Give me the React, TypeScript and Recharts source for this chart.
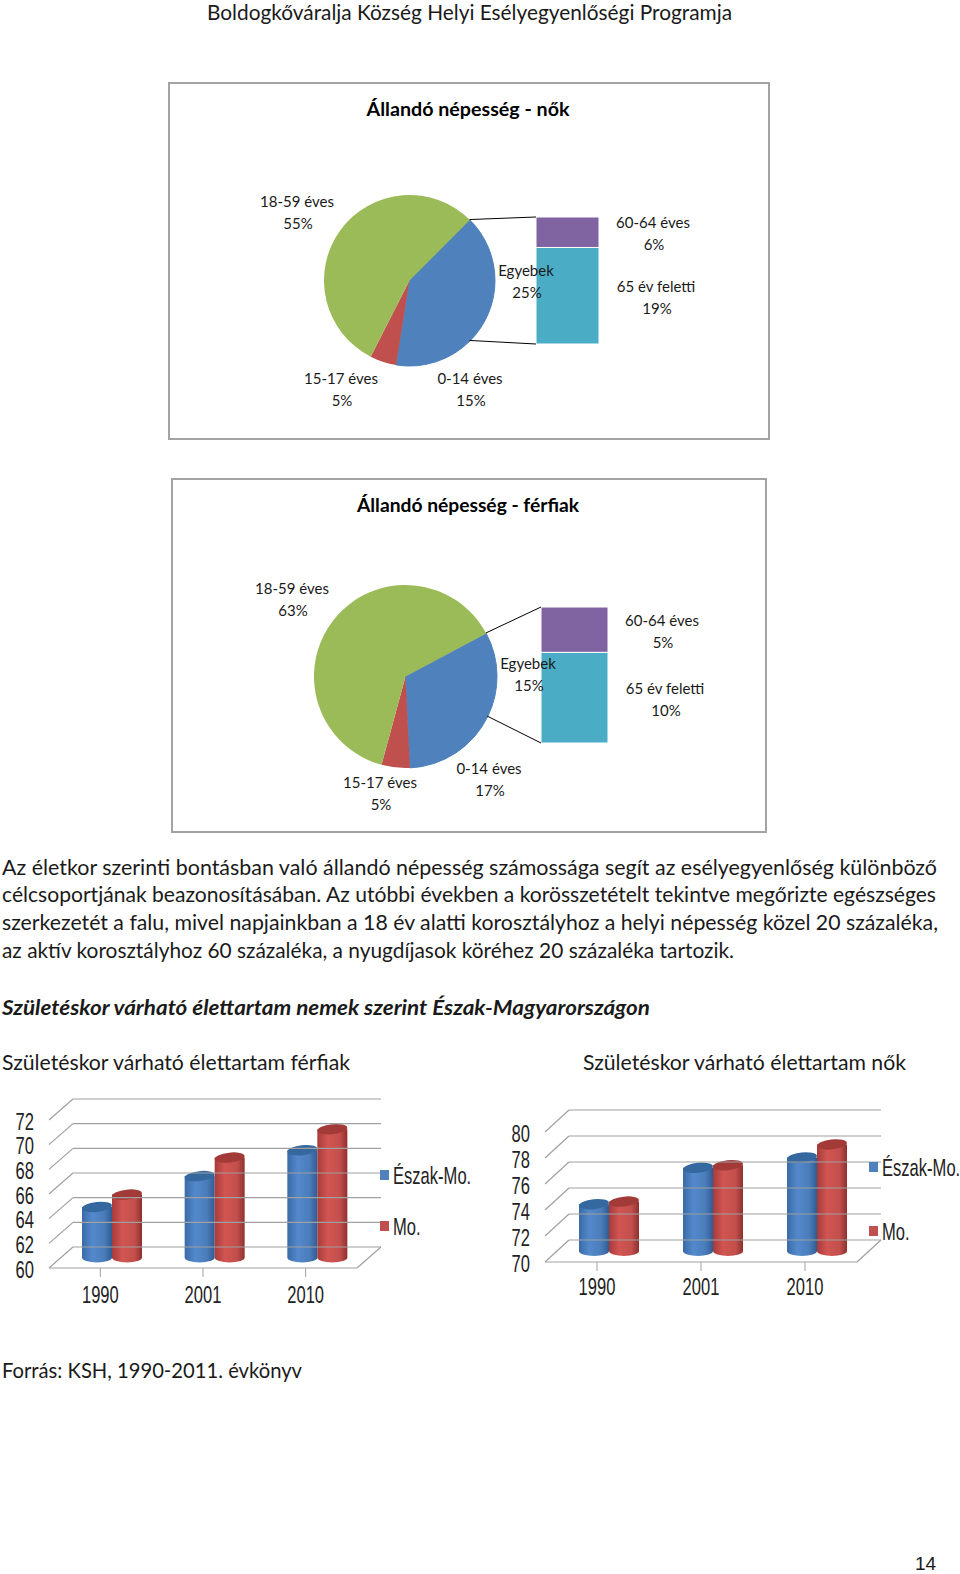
import React from 'react';
import { PieChart, Pie, Cell, BarChart, Bar, XAxis, YAxis } from 'recharts';

// population pies
const pieNames = ['Egyebek', '0-14 éves', '15-17 éves', '18-59 éves'];
const womenPie = [25, 15, 5, 55];
const menPie = [15, 17, 5, 63];
const splitNames = ['65 év feletti', '60-64 éves'];
const womenSplit = [19, 6];
const menSplit = [10, 5];

// life expectancy
const years = ['1990', '2001', '2010'];
const seriesNames = ['Észak-Mo.', 'Mo.'];
const menNorth = [64.1, 66.6, 68.7];
const menHungary = [65.1, 68.1, 70.4];
const womenNorth = [73.6, 76.4, 77.2];
const womenHungary = [73.8, 76.6, 78.2];
const menTicks = [60, 62, 64, 66, 68, 70, 72];
const womenTicks = [70, 72, 74, 76, 78, 80];

const pageTitle = 'Boldogkőváralja Község Helyi Esélyegyenlőségi Programja';
const paragraph = [
  'Az életkor szerinti bontásban való állandó népesség számossága segít az esélyegyenlőség különböző',
  'célcsoportjának beazonosításában. Az utóbbi években a korösszetételt tekintve megőrizte egészséges',
  'szerkezetét a falu, mivel napjainkban a 18 év alatti korosztályhoz a helyi népesség közel 20 százaléka,',
  'az aktív korosztályhoz 60 százaléka, a nyugdíjasok köréhez 20 százaléka tartozik.',
];

const BLUE = '#4f81bd';
const RED = '#c0504d';
const GREEN = '#9bbb59';
const PURPLE = '#8064a2';
const TEAL = '#4bacc6';
const GRID = '#a0a0a0';
const BODY_FONT = 'Lato, sans-serif';
const CHART_FONT = '"Liberation Sans", sans-serif';

const pieColors = [BLUE, BLUE, RED, GREEN];

// the 3D charts were pasted in squeezed, so their text is narrowed the same way
const ChartText = ({ x, y, anchor, children }: any) => (
  <text transform={`translate(${x} ${y}) scale(0.69 1)`} textAnchor={anchor} dominantBaseline="central" fontFamily={CHART_FONT} fontSize={24} fill="#222">
    {children}
  </text>
);

const PopulationPanel = ({ values, split, frame, title, titleY, titleWidth, cx, cy, r, startAngle, barBox, labels }: any) => {
  const pieData = pieNames.map((name, i) => ({ name, value: values[i] }));
  const splitData = [{ a: split[0], b: split[1] }];
  const total = values[0] + values[1] + values[2] + values[3];
  const endA = (startAngle - (values[0] / total) * 360) * (Math.PI / 180);
  const startA = startAngle * (Math.PI / 180);
  const size = r * 2 + 4;
  const texts = [
    [pieNames[3], values[3], labels.big],
    [splitNames[1], split[1], labels.purple],
    [splitNames[0], split[0], labels.teal],
    [pieNames[0], values[0], labels.other],
    [pieNames[2], values[2], labels.red],
    [pieNames[1], values[1], labels.blue],
  ];
  return (
    <>
      <div style={{ position: 'absolute', left: frame[0], top: frame[1], width: frame[2], height: frame[3], border: '2px solid #a3a3a3', boxSizing: 'border-box', background: '#fff' }} />
      <div style={{ position: 'absolute', left: cx - size / 2, top: cy - size / 2 }}>
        <PieChart width={size} height={size} margin={{ top: 0, right: 0, bottom: 0, left: 0 }}>
          <Pie data={pieData} dataKey="value" cx="50%" cy="50%" outerRadius={r} startAngle={startAngle} endAngle={startAngle - 360} stroke="none" isAnimationActive={false}>
            {pieData.map((d, i) => <Cell key={d.name} fill={pieColors[i]} stroke={i < 2 ? BLUE : 'none'} strokeWidth={1} />)}
          </Pie>
        </PieChart>
      </div>
      <div style={{ position: 'absolute', left: barBox[0], top: barBox[1] }}>
        <BarChart width={barBox[2]} height={barBox[3]} data={splitData} margin={{ top: 0, right: 0, bottom: 0, left: 0 }} barCategoryGap={0}>
          <XAxis hide dataKey={() => 'x'} />
          <YAxis hide domain={[0, split[0] + split[1]]} />
          <Bar dataKey="a" stackId="s" fill={TEAL} stroke="#fff" strokeWidth={1} isAnimationActive={false} />
          <Bar dataKey="b" stackId="s" fill={PURPLE} stroke="#fff" strokeWidth={1} isAnimationActive={false} />
        </BarChart>
      </div>
      <svg width={960} height={1574} style={{ position: 'absolute', left: 0, top: 0, pointerEvents: 'none' }}>
        <line x1={cx + r * Math.cos(startA)} y1={cy - r * Math.sin(startA)} x2={barBox[0]} y2={barBox[1]} stroke="#000" strokeWidth={1} />
        <line x1={cx + r * Math.cos(endA)} y1={cy - r * Math.sin(endA)} x2={barBox[0]} y2={barBox[1] + barBox[3]} stroke="#000" strokeWidth={1} />
        <text x={frame[0] + frame[2] / 2 - 1} y={titleY} textAnchor="middle" dominantBaseline="central" fontFamily={BODY_FONT} fontWeight={700} fontSize={19} fill="#000" textLength={titleWidth} lengthAdjust="spacingAndGlyphs">{title}</text>
        {texts.map(([name, value, pos]: any) => (
          <g key={name} fontFamily={BODY_FONT} fontSize={15} fill="#1a1a1a" textAnchor="middle">
            <text x={pos[0]} y={pos[1]} dominantBaseline="central">{name}</text>
            <text x={pos[0] + 1} y={pos[1] + 22} dominantBaseline="central">{value}%</text>
          </g>
        ))}
      </svg>
    </>
  );
};

const Cylinder = ({ x, y, width, height, fillId, topColor, shiftX, shiftY }: any) => {
  const ry = 5;
  const left = x + shiftX;
  const top = y + shiftY;
  const right = left + width;
  const bottom = top + height;
  const body = `M${left},${top} L${left},${bottom} A${width / 2},${ry} 0 0 0 ${right},${bottom} L${right},${top} Z`;
  return (
    <g>
      <path d={body} fill={`url(#${fillId})`} />
      <ellipse cx={left + width / 2} cy={top} rx={width / 2} ry={ry} fill={topColor} transform={`rotate(-6 ${left + width / 2} ${top})`} />
    </g>
  );
};

const LifeChart = ({ id, left, top, width, height, plot, ticks, north, hungary, depth, legend, yearDy }: any) => {
  const data = years.map((year, i) => ({ year, north: north[i], hungary: hungary[i] }));
  const wallRight = width - plot.right + depth[0];
  const frontRight = width - plot.right;
  const renderYTick = ({ y, payload }: any) => (
    <g>
      <line x1={plot.left} y1={y} x2={plot.left + depth[0]} y2={y - depth[1]} stroke={GRID} strokeWidth={1.2} />
      <line x1={plot.left + depth[0]} y1={y - depth[1]} x2={wallRight} y2={y - depth[1]} stroke={GRID} strokeWidth={1.2} />
      {payload.value === ticks[0] && <line x1={frontRight} y1={y} x2={wallRight} y2={y - depth[1]} stroke={GRID} strokeWidth={1.2} />}
      <ChartText x={plot.left - 15} y={y + 1} anchor="end">{payload.value}</ChartText>
    </g>
  );
  const renderXTick = ({ x, y, payload }: any) => (
    <ChartText x={x} y={y + yearDy} anchor="middle">{payload.value}</ChartText>
  );
  const mid = [depth[0] / 2, -depth[1] / 2];
  return (
    <div style={{ position: 'absolute', left, top }}>
      <BarChart width={width} height={height} data={data} margin={{ top: plot.top, right: plot.right, bottom: 0, left: 0 }} barSize={30} barGap={0}>
        <defs>
          <linearGradient id={`${id}b`} x1="0" x2="1" y1="0" y2="0">
            <stop offset="0%" stopColor="#3a6aa6" />
            <stop offset="35%" stopColor="#5389cc" />
            <stop offset="75%" stopColor="#4a7cb9" />
            <stop offset="100%" stopColor="#2f5b94" />
          </linearGradient>
          <linearGradient id={`${id}r`} x1="0" x2="1" y1="0" y2="0">
            <stop offset="0%" stopColor="#a63c3a" />
            <stop offset="35%" stopColor="#d25552" />
            <stop offset="75%" stopColor="#c24f4c" />
            <stop offset="100%" stopColor="#8f302e" />
          </linearGradient>
        </defs>
        <XAxis dataKey="year" height={plot.bottom} stroke={GRID} tickSize={9} tick={renderXTick} />
        <YAxis width={plot.left} domain={[ticks[0], ticks[ticks.length - 1]]} ticks={ticks} axisLine={false} tickLine={false} tick={renderYTick} interval={0} />
        <Bar dataKey="north" name={seriesNames[0]} isAnimationActive={false}
          shape={(p: any) => <Cylinder {...p} fillId={`${id}b`} topColor="#34689f" shiftX={mid[0]} shiftY={mid[1]} />} />
        <Bar dataKey="hungary" name={seriesNames[1]} isAnimationActive={false}
          shape={(p: any) => <Cylinder {...p} fillId={`${id}r`} topColor="#a23a38" shiftX={mid[0]} shiftY={mid[1]} />} />
      </BarChart>
      <svg width={width} height={height} style={{ position: 'absolute', left: 0, top: 0, pointerEvents: 'none' }}>
        {seriesNames.map((name, i) => (
          <g key={name}>
            <rect x={legend.x} y={legend.y[i] - 5} width={9} height={10} fill={i === 0 ? BLUE : RED} />
            <ChartText x={legend.x + 13} y={legend.y[i]} anchor="start">{name}</ChartText>
          </g>
        ))}
      </svg>
    </div>
  );
};

const App = () => (
  <div style={{ position: 'absolute', left: 0, top: 0, width: 960, height: 1574, background: '#fff', overflow: 'hidden' }}>
    <PopulationPanel
      values={womenPie} split={womenSplit} title="Állandó népesség - nők"
      frame={[168, 82, 602, 358]} titleY={108} titleWidth={203}
      cx={409} cy={280} r={85.5} startAngle={45} barBox={[536, 217, 63, 127]}
      labels={{ big: [297, 201], purple: [653, 222], teal: [656, 286], other: [526, 270], red: [341, 378], blue: [470, 378] }}
    />
    <PopulationPanel
      values={menPie} split={menSplit} title="Állandó népesség - férfiak"
      frame={[171, 478, 596, 355]} titleY={504} titleWidth={222}
      cx={405} cy={676} r={91.5} startAngle={28} barBox={[541, 607, 67, 136]}
      labels={{ big: [292, 588], purple: [662, 620], teal: [665, 688], other: [528, 663], red: [380, 782], blue: [489, 768] }}
    />
    <LifeChart id="men" left={0} top={1085} width={480} height={230} yearDy={15}
      plot={{ left: 49, top: 35, right: 123, bottom: 47 }} ticks={menTicks}
      north={menNorth} hungary={menHungary} depth={[24, 21]} legend={{ x: 380, y: [90, 141] }} />
    <LifeChart id="women" left={490} top={1085} width={470} height={230} yearDy={13}
      plot={{ left: 55, top: 47, right: 103, bottom: 53 }} ticks={womenTicks}
      north={womenNorth} hungary={womenHungary} depth={[24, 22]} legend={{ x: 379, y: [82, 146] }} />
    <svg width={960} height={1574} style={{ position: 'absolute', left: 0, top: 0, pointerEvents: 'none' }} fontFamily={BODY_FONT} fill="#1a1a1a">
      <text x={207} y={11} dominantBaseline="central" fontSize={21} textLength={525} lengthAdjust="spacingAndGlyphs">{pageTitle}</text>
      {paragraph.map((line, i) => (
        <text key={i} x={2} y={[866, 893, 921, 949][i]} dominantBaseline="central" fontSize={21}
          textLength={[935, 934, 936, 732][i]} lengthAdjust="spacingAndGlyphs">{line}</text>
      ))}
      <text x={2} y={1006} dominantBaseline="central" fontSize={21} fontWeight={700} fontStyle="italic" textLength={648} lengthAdjust="spacingAndGlyphs">Születéskor várható élettartam nemek szerint Észak-Magyarországon</text>
      <text x={2} y={1061} dominantBaseline="central" fontSize={21} textLength={348} lengthAdjust="spacingAndGlyphs">Születéskor várható élettartam férfiak</text>
      <text x={583} y={1061} dominantBaseline="central" fontSize={21} textLength={323} lengthAdjust="spacingAndGlyphs">Születéskor várható élettartam nők</text>
      <text x={2} y={1369} dominantBaseline="central" fontSize={21} textLength={300} lengthAdjust="spacingAndGlyphs">Forrás: KSH, 1990-2011. évkönyv</text>
      <text x={915} y={1563} dominantBaseline="central" fontFamily="Liberation Sans, sans-serif" fontSize={19}>14</text>
    </svg>
  </div>
);

export default App;
